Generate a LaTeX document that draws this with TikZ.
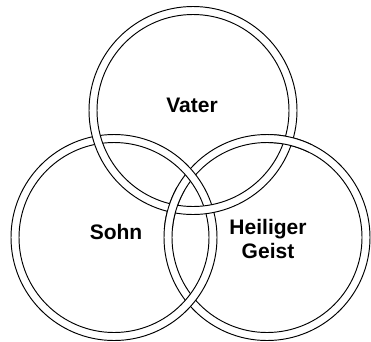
\documentclass[tikz,border=0pt]{standalone}
\usepackage{fontspec}
\setmainfont{Liberation Sans}
\begin{document}
\begin{tikzpicture}[x=1pt,y=-1pt,
  ringline/.style={line width=0.95pt,draw=black},
  ringfill/.style={fill=white,even odd rule},
  lbl/.style={font=\bfseries\fontsize{21}{24}\selectfont,align=center,text=black}]
\useasboundingbox (0,0) rectangle (371,341);
\def\ringat#1#2#3{%
  \fill[ringfill] (#1) circle (#2pt) circle (#3pt);
  \draw[ringline] (#1) circle (#2pt);
  \draw[ringline] (#1) circle (#3pt);}
\coordinate (V) at (193,110.5);
\coordinate (S) at (114,237.5);
\coordinate (G) at (267,237.5);
% order: Geist, Sohn (over Geist), Vater (over Sohn), Geist again over Vater at its crossings
\ringat{G}{103}{95}
\ringat{S}{103}{95}
\ringat{V}{104}{96}
\begin{scope}
  \clip (291,140) circle (22pt) (170,208) circle (22pt);
  \ringat{G}{103}{95}
\end{scope}
\node[lbl] (vater) at (192,105) {Vater};
\node[lbl] (sohn) at (116,232) {Sohn};
\node[lbl] (geist) at (268,239) {Heiliger\\Geist};
\end{tikzpicture}
\end{document}
